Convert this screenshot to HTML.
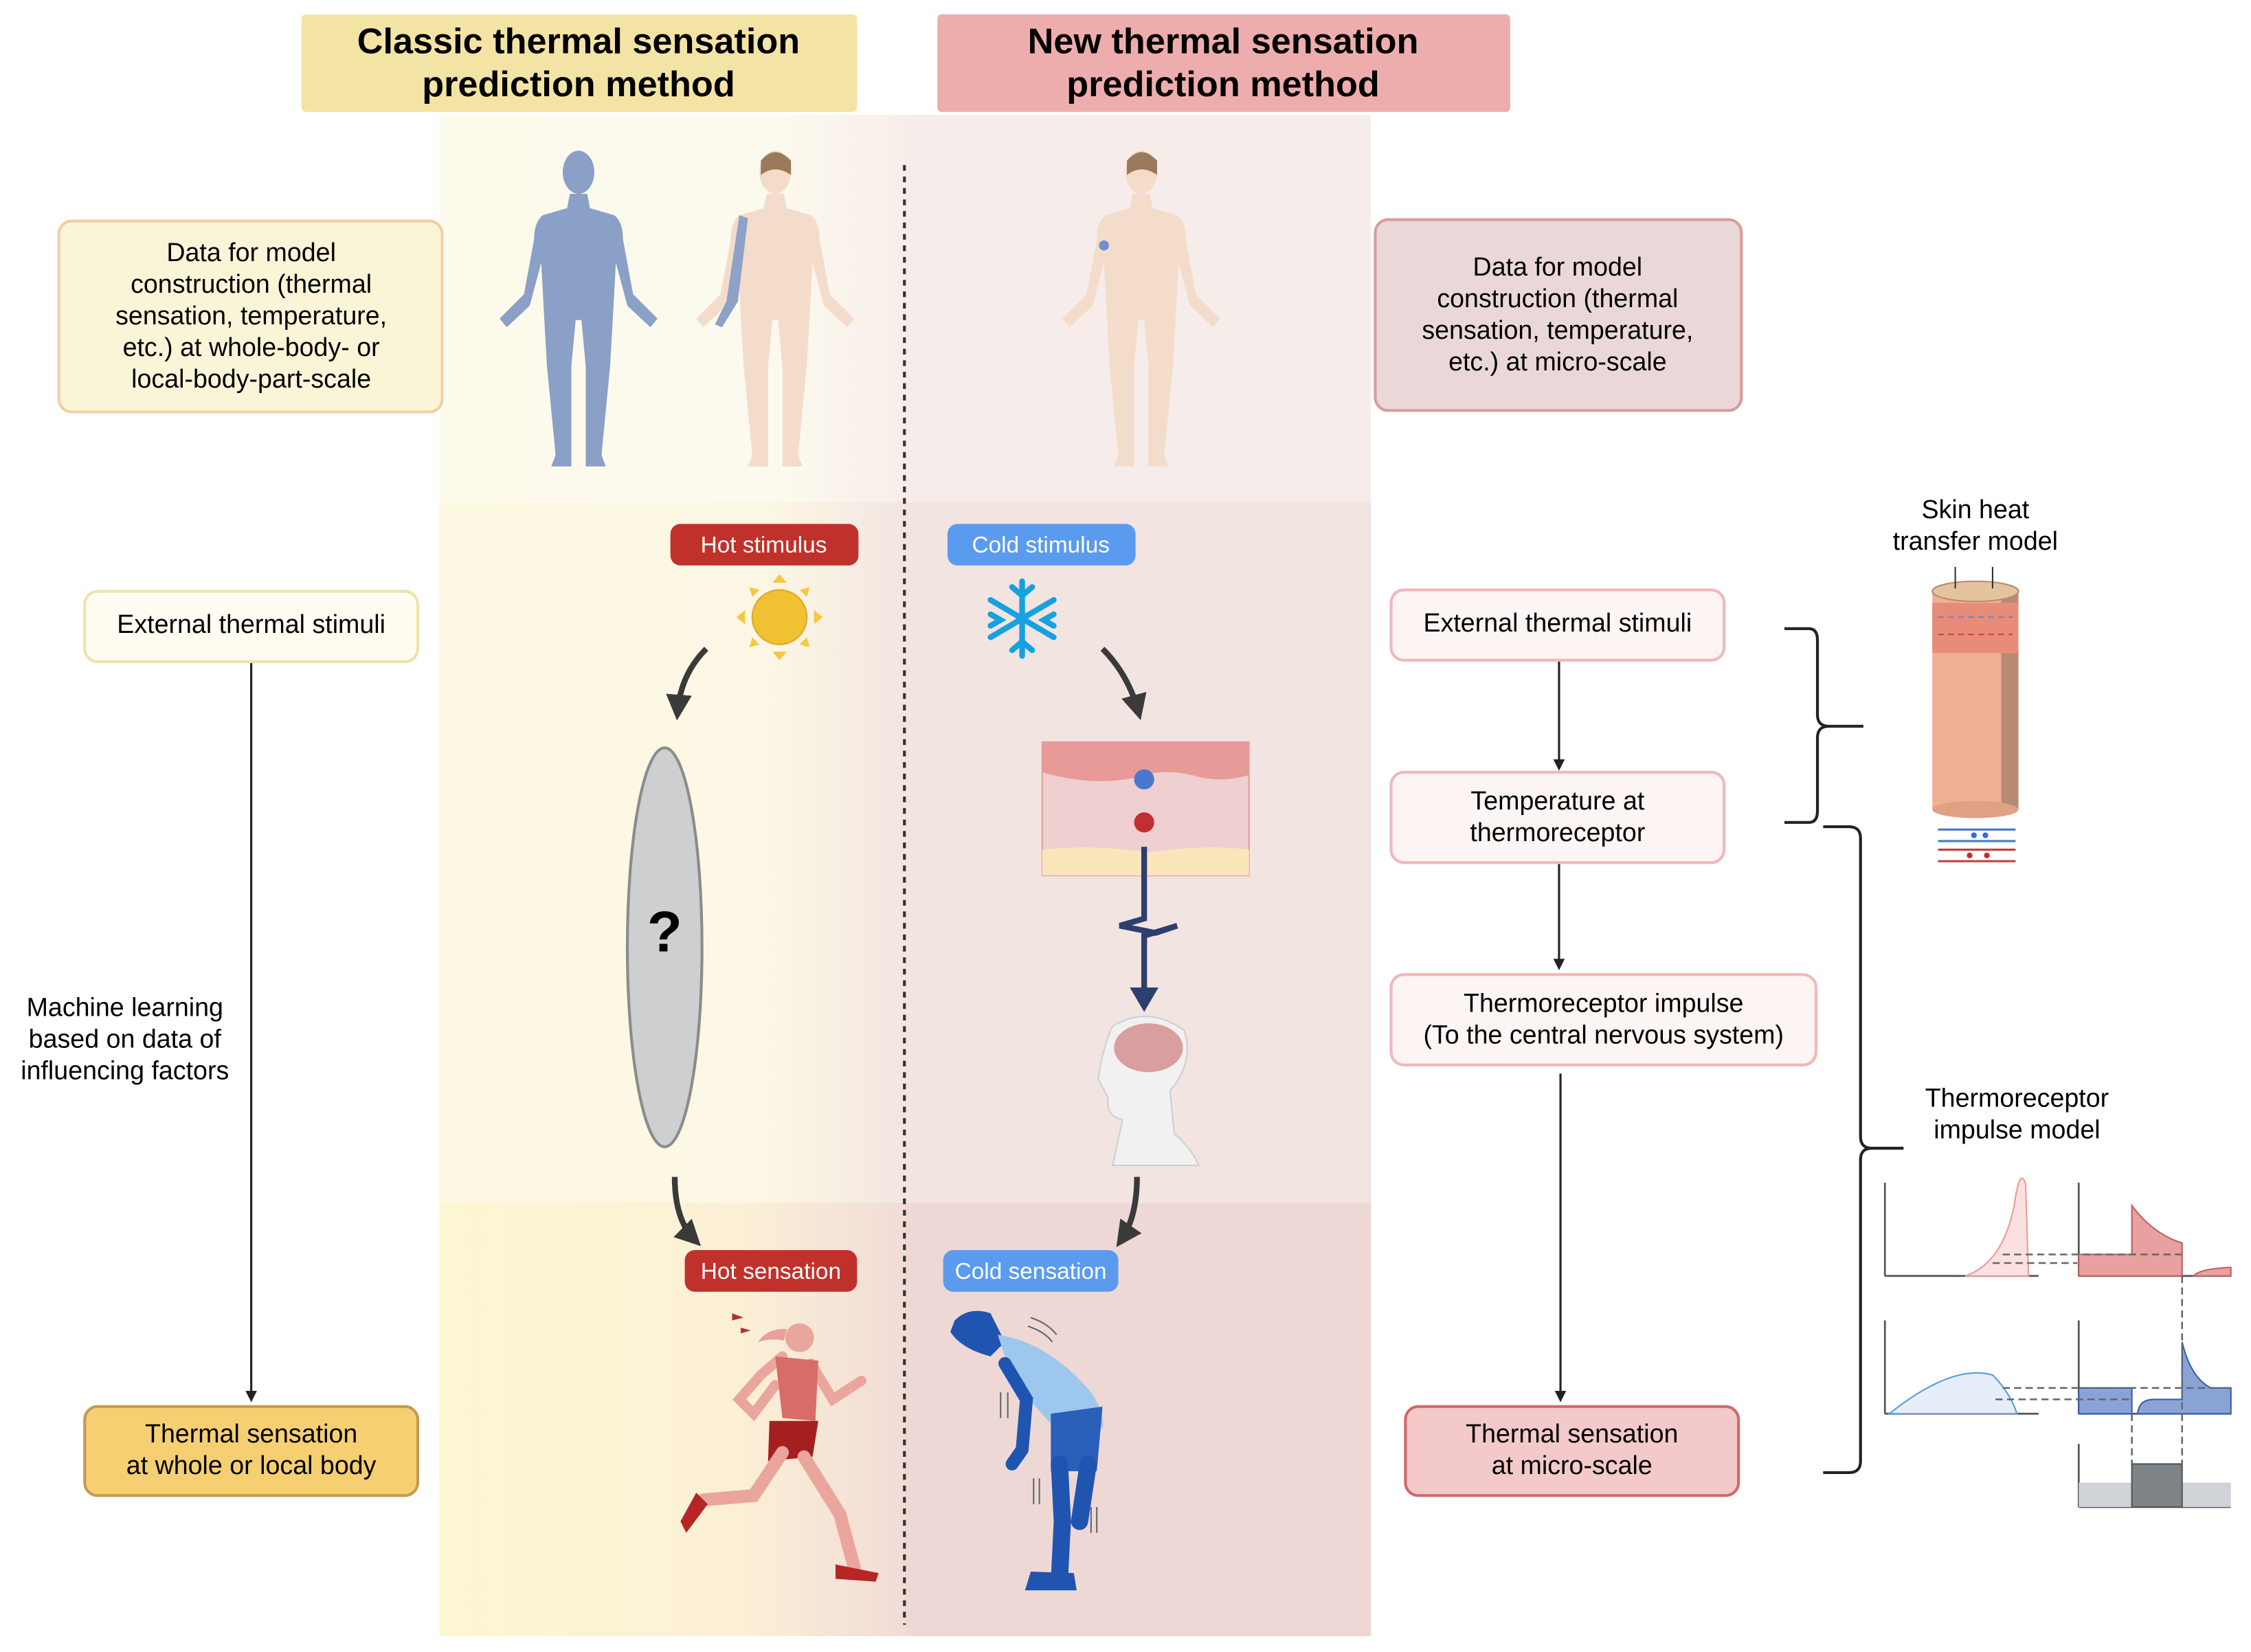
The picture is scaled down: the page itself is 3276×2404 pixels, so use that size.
<!DOCTYPE html>
<html><head><meta charset="utf-8"><style>
html,body{margin:0;padding:0;background:#fff}
svg{display:block}
text{font-family:"Liberation Sans",sans-serif}
</style></head><body>
<svg width="3276" height="2404" viewBox="0 0 1568 1151" preserveAspectRatio="none" xmlns="http://www.w3.org/2000/svg">
<defs>
<linearGradient id="yt" x1="0" x2="1"><stop offset="0" stop-color="#fdfbec"/><stop offset="0.75" stop-color="#fcf9ee"/><stop offset="1" stop-color="#f7eeea"/></linearGradient>
<linearGradient id="ym" x1="0" x2="1"><stop offset="0" stop-color="#fdf9e2"/><stop offset="0.7" stop-color="#fcf7e4"/><stop offset="1" stop-color="#f3e6e2"/></linearGradient>
<linearGradient id="yb" x1="0" x2="1"><stop offset="0" stop-color="#fdf6d2"/><stop offset="0.65" stop-color="#fbf0d6"/><stop offset="1" stop-color="#f2dcd6"/></linearGradient>
<marker id="ah" markerWidth="8" markerHeight="8" refX="6" refY="4" orient="auto" markerUnits="userSpaceOnUse"><path d="M0,0 L8,4 L0,8 Z" fill="#222"/></marker>
<marker id="ab" markerWidth="18" markerHeight="18" refX="12" refY="9" orient="auto" markerUnits="userSpaceOnUse"><path d="M0,0 L18,9 L0,18 Z" fill="#3a3a3a"/></marker>
<path id="body" d="M-6,30 L6,30 L8,40 L25,45 Q31,50 31,62 L38,100 L55,117 L50,123 L34,108 L26,78 L24,115 L22,150 L16,212 L19,220 L5,220 L5,150 L2,118 L-2,118 L-5,150 L-5,220 L-19,220 L-16,212 L-22,150 L-24,115 L-26,78 L-34,108 L-50,123 L-55,117 L-38,100 L-31,62 Q-31,50 -25,45 L-8,40 Z"/>
</defs>

<rect x="306" y="80" width="324" height="270" fill="url(#yt)"/>
<rect x="306" y="350" width="324" height="488" fill="url(#ym)"/>
<rect x="306" y="838" width="324" height="302" fill="url(#yb)"/>
<rect x="630" y="80" width="325" height="270" fill="#f6ecea"/>
<rect x="630" y="350" width="325" height="488" fill="#f2e4e1"/>
<rect x="630" y="838" width="325" height="302" fill="#eed8d6"/>
<line x1="630" y1="115" x2="630" y2="1132" stroke="#333" stroke-width="2" stroke-dasharray="4,4"/>

<rect x="210" y="10" width="387" height="68" rx="3" fill="#f3e4a6"/>
<text x="403" y="37" font-size="25" font-weight="bold" text-anchor="middle">Classic thermal sensation</text>
<text x="403" y="67" font-size="25" font-weight="bold" text-anchor="middle">prediction method</text>
<rect x="653" y="10" width="399" height="68" rx="3" fill="#eeadad"/>
<text x="852" y="37" font-size="25" font-weight="bold" text-anchor="middle">New thermal sensation</text>
<text x="852" y="67" font-size="25" font-weight="bold" text-anchor="middle">prediction method</text>

<use href="#body" x="403" y="105" fill="#8ba0c6"/>
<ellipse cx="403" cy="120" rx="11" ry="15" fill="#8ba0c6"/>
<use href="#body" x="540" y="105" fill="#f4dccb"/>
<ellipse cx="540" cy="120" rx="11" ry="15" fill="#f4dccb"/>
<path d="M530,112 Q540,100 551,112 L551,122 Q540,114 530,122 Z" fill="#9b7a5c"/>
<path d="M515,150 L521,152 L514,210 L503,228 L498,226 L506,210 Z" fill="#8ea2c8"/>
<use href="#body" x="795" y="105" fill="#f4dccb"/>
<ellipse cx="795" cy="120" rx="11" ry="15" fill="#f4dccb"/>
<path d="M785,112 Q795,100 806,112 L806,122 Q795,114 785,122 Z" fill="#9b7a5c"/>
<circle cx="769" cy="171" r="3.5" fill="#6f8ed0"/>

<rect x="41" y="154" width="267" height="133" rx="9" fill="#fbf5d8" stroke="#f0d0a4" stroke-width="2"/>
<g font-size="18" text-anchor="middle"><text x="175" y="182">Data for model</text><text x="175" y="204">construction (thermal</text><text x="175" y="226">sensation, temperature,</text><text x="175" y="248">etc.) at whole-body- or</text><text x="175" y="270">local-body-part-scale</text></g>
<rect x="958" y="153" width="255" height="133" rx="9" fill="#ead8d8" stroke="#d89c9c" stroke-width="2"/>
<g font-size="18" text-anchor="middle"><text x="1085" y="192">Data for model</text><text x="1085" y="214">construction (thermal</text><text x="1085" y="236">sensation, temperature,</text><text x="1085" y="258">etc.) at micro-scale</text></g>

<rect x="59" y="412" width="232" height="49" rx="9" fill="#fffdf2" stroke="#efe3a8" stroke-width="2"/>
<text x="175" y="441" font-size="18" text-anchor="middle">External thermal stimuli</text>
<line x1="175" y1="462" x2="175" y2="975" stroke="#222" stroke-width="1.5" marker-end="url(#ah)"/>
<g font-size="18" text-anchor="middle"><text x="87" y="708">Machine learning</text><text x="87" y="730">based on data of</text><text x="87" y="752">influencing factors</text></g>
<rect x="59" y="980" width="232" height="62" rx="9" fill="#f5cf72" stroke="#c59a52" stroke-width="2"/>
<text x="175" y="1005" font-size="18" text-anchor="middle">Thermal sensation</text>
<text x="175" y="1027" font-size="18" text-anchor="middle">at whole or local body</text>

<rect x="969" y="411" width="232" height="49" rx="9" fill="#fdf4f4" stroke="#f0b8b8" stroke-width="2"/>
<text x="1085" y="440" font-size="18" text-anchor="middle">External thermal stimuli</text>
<line x1="1086" y1="461" x2="1086" y2="535" stroke="#222" stroke-width="1.5" marker-end="url(#ah)"/>
<rect x="969" y="538" width="232" height="63" rx="9" fill="#fdf4f4" stroke="#f0b8b8" stroke-width="2"/>
<text x="1085" y="564" font-size="18" text-anchor="middle">Temperature at</text>
<text x="1085" y="586" font-size="18" text-anchor="middle">thermoreceptor</text>
<line x1="1086" y1="602" x2="1086" y2="674" stroke="#222" stroke-width="1.5" marker-end="url(#ah)"/>
<rect x="969" y="679" width="296" height="63" rx="9" fill="#fdf4f4" stroke="#f0b8b8" stroke-width="2"/>
<text x="1117" y="705" font-size="18" text-anchor="middle">Thermoreceptor impulse</text>
<text x="1117" y="727" font-size="18" text-anchor="middle">(To the central nervous system)</text>
<line x1="1087" y1="748" x2="1087" y2="975" stroke="#222" stroke-width="1.5" marker-end="url(#ah)"/>
<rect x="979" y="980" width="232" height="62" rx="9" fill="#f3c9c9" stroke="#d06a6a" stroke-width="2"/>
<text x="1095" y="1005" font-size="18" text-anchor="middle">Thermal sensation</text>
<text x="1095" y="1027" font-size="18" text-anchor="middle">at micro-scale</text>

<path d="M1243,438 L1260,438 Q1266,438 1266,446 L1266,498 Q1266,506 1274,506 L1298,506 M1274,506 Q1266,506 1266,514 L1266,565 Q1266,573 1260,573 L1243,573" fill="none" stroke="#222" stroke-width="2"/>
<path d="M1270,576 L1288,576 Q1296,576 1296,584 L1296,792 Q1296,800 1304,800 L1326,800 M1304,800 Q1296,800 1296,808 L1296,1018 Q1296,1026 1288,1026 L1270,1026" fill="none" stroke="#222" stroke-width="2"/>

<text x="1376" y="361" font-size="18" text-anchor="middle">Skin heat</text>
<text x="1376" y="383" font-size="18" text-anchor="middle">transfer model</text>
<rect x="1346" y="412" width="60" height="152" fill="#f0b093"/>
<rect x="1394" y="412" width="12" height="152" fill="#b78a72"/>
<rect x="1346" y="420" width="60" height="35" fill="#e88c7a"/>
<line x1="1350" y1="430" x2="1402" y2="430" stroke="#5a8ad8" stroke-dasharray="4,3"/>
<line x1="1350" y1="442" x2="1402" y2="442" stroke="#d04040" stroke-dasharray="4,3"/>
<ellipse cx="1376" cy="412" rx="30" ry="7" fill="#e6c39f" stroke="#b78a72"/>
<ellipse cx="1376" cy="564" rx="30" ry="6" fill="#e0a082"/>
<line x1="1362" y1="395" x2="1362" y2="410" stroke="#333"/><line x1="1388" y1="395" x2="1388" y2="410" stroke="#333"/>
<line x1="1350" y1="578" x2="1404" y2="578" stroke="#4a78c8" stroke-width="1.5"/>
<line x1="1350" y1="586" x2="1404" y2="586" stroke="#4a78c8" stroke-width="1.5"/>
<circle cx="1375" cy="582" r="2" fill="#3a6ad0"/><circle cx="1383" cy="582" r="2" fill="#3a6ad0"/>
<line x1="1350" y1="592" x2="1404" y2="592" stroke="#c04040" stroke-width="1.5"/>
<line x1="1350" y1="600" x2="1404" y2="600" stroke="#c04040" stroke-width="1.5"/>
<circle cx="1372" cy="596" r="2" fill="#c03030"/><circle cx="1384" cy="596" r="2" fill="#c03030"/>

<text x="1405" y="771" font-size="18" text-anchor="middle">Thermoreceptor</text>
<text x="1405" y="793" font-size="18" text-anchor="middle">impulse model</text>
<g stroke="#555" stroke-width="1.3" fill="none">
<path d="M1313,889 L1313,824 M1313,889 L1420,889 M1448,889 L1448,824 M1448,889 L1554,889 M1313,985 L1313,920 M1313,985 L1420,985 M1448,985 L1448,920 M1448,985 L1554,985 M1448,1050 L1448,1006 M1448,1050 L1554,1050"/>
</g>
<path d="M1369,889 Q1395,880 1403,840 Q1407,812 1411,825 L1413,889 Z" fill="#fbe0e0" stroke="#ec9a9a"/>
<path d="M1448,889 L1448,874 L1485,874 L1485,840 Q1500,860 1520,866 L1520,889 Z" fill="#e8a0a0" stroke="#c06060"/>
<path d="M1528,889 Q1532,884 1554,883 L1554,889 Z" fill="#e8a0a0" stroke="#c06060"/>
<path d="M1316,985 Q1360,950 1388,958 Q1400,970 1405,985 Z" fill="#e6eef9" stroke="#5a9ae0"/>
<path d="M1448,985 L1448,967 L1485,967 L1485,985 Z M1489,985 Q1490,975 1500,975 L1520,975 L1520,935 Q1526,960 1540,967 L1554,967 L1554,985 Z" fill="#8aa3d6" stroke="#3a5ea8"/>
<rect x="1448" y="1033" width="106" height="17" fill="#cfd3d8"/>
<rect x="1485" y="1020" width="35" height="30" fill="#7e8388" stroke="#555"/>
<g stroke="#666" stroke-width="1.2" stroke-dasharray="5,3" fill="none">
<path d="M1395,874 L1520,874 M1388,880 L1447,880 M1520,889 L1520,1020 M1485,985 L1485,1020 M1395,967 L1554,967 M1390,975 L1485,975"/>
</g>

<rect x="467" y="365" width="131" height="29" rx="7" fill="#c1312b"/>
<text x="532" y="385" font-size="16" fill="#fff" text-anchor="middle">Hot stimulus</text>
<g fill="#f5c842"><circle cx="543" cy="430" r="19" fill="#f0c233" stroke="#e2a720"/>
<path d="M543,400 l-5,6 h10z M543,460 l-5,-6 h10z M513,430 l6,-5 v10z M573,430 l-6,-5 v10z M522,409 l7,2 -5,5z M564,409 l-7,2 5,5z M522,451 l7,-2 -5,-5z M564,451 l-7,-2 5,-5z"/></g>
<path d="M492,452 Q474,470 472,496" fill="none" stroke="#3a3a3a" stroke-width="4" marker-end="url(#ab)"/>
<ellipse cx="463" cy="660" rx="26" ry="139" fill="#cdcfd1" stroke="#8c8c8c" stroke-width="2"/>
<text x="463" y="663" font-size="40" font-weight="bold" text-anchor="middle">?</text>
<path d="M470,820 Q470,850 484,864" fill="none" stroke="#3a3a3a" stroke-width="4" marker-end="url(#ab)"/>
<rect x="477" y="871" width="120" height="29" rx="7" fill="#c1312b"/>
<text x="537" y="891" font-size="16" fill="#fff" text-anchor="middle">Hot sensation</text>
<g>
<circle cx="557" cy="932" r="10" fill="#eaa59c"/>
<path d="M548,926 Q535,925 528,935 Q538,932 546,934 Z" fill="#e8a098"/>
<path d="M510,915 l8,3 -8,2z M516,925 l7,2 -7,2z" fill="#b03030"/>
<path d="M545,945 L530,958 L515,975 L525,985 L540,965 M565,950 L580,975 L600,962" fill="none" stroke="#eaa59c" stroke-width="7" stroke-linecap="round"/>
<path d="M540,945 L570,948 L568,990 L545,988 Z" fill="#d86c68"/>
<path d="M536,990 L570,990 L566,1015 L535,1018 Z" fill="#a51f1f"/>
<path d="M545,1012 L525,1042 L490,1045 M560,1015 L585,1055 L595,1092" fill="none" stroke="#eaa59c" stroke-width="9" stroke-linecap="round"/>
<path d="M485,1040 L493,1048 L478,1068 L474,1060 Z M582,1090 L612,1096 L610,1102 L582,1100 Z" fill="#b82525"/>
</g>

<rect x="660" y="365" width="131" height="29" rx="7" fill="#5b9bef"/>
<text x="725" y="385" font-size="16" fill="#fff" text-anchor="middle">Cold stimulus</text>
<g stroke="#16a1e0" stroke-width="4" stroke-linecap="round" fill="none">
<path d="M712,405 V457 M690,418 L734,444 M690,444 L734,418 M705,409 L712,415 L719,409 M705,453 L712,447 L719,453 M690,428 L697,432 L690,436 M734,428 L727,432 L734,436"/></g>
<path d="M768,452 Q786,470 793,496" fill="none" stroke="#3a3a3a" stroke-width="4" marker-end="url(#ab)"/>
<rect x="726" y="517" width="144" height="93" fill="#efcfcf" stroke="#e0a0a0"/>
<path d="M726,517 H870 V540 Q850,546 830,540 Q810,535 790,542 Q760,548 726,538 Z" fill="#e89a98"/>
<path d="M726,592 Q760,588 800,594 Q840,588 870,592 V610 H726 Z" fill="#fbe6bc"/>
<circle cx="797" cy="543" r="7" fill="#4a78d0"/><circle cx="797" cy="573" r="7" fill="#c03030"/>
<path d="M797,590 V640 L780,645 L805,650 L820,645 L797,652 V690" fill="none" stroke="#2d3f6e" stroke-width="4"/>
<path d="M787,688 L807,688 L797,705 Z" fill="#2d3f6e"/>
<path d="M775,715 Q800,700 825,718 Q832,740 815,760 L818,790 Q830,800 835,812 H775 L782,780 Q770,778 772,765 L765,752 Q768,730 775,715 Z" fill="#f1f1f1" stroke="#cfcfcf"/>
<ellipse cx="800" cy="730" rx="24" ry="17" fill="#d99e9e"/>
<path d="M792,820 Q792,848 781,864" fill="none" stroke="#3a3a3a" stroke-width="4" marker-end="url(#ab)"/>
<rect x="657" y="871" width="122" height="29" rx="7" fill="#5b9bef"/>
<text x="718" y="891" font-size="16" fill="#fff" text-anchor="middle">Cold sensation</text>
<g>
<path d="M665,920 Q675,910 690,915 L700,935 L690,945 Q670,940 662,928 Z" fill="#1f55b0"/>
<path d="M695,930 Q730,935 760,970 Q770,985 768,995 L740,1000 Q720,980 705,960 Z" fill="#9ec7ed"/>
<path d="M700,950 L715,975 L712,1010 M712,1010 L705,1020" fill="none" stroke="#1f55b0" stroke-width="9" stroke-linecap="round"/>
<path d="M732,985 L768,980 L764,1025 L732,1025 Z" fill="#2a5fba"/>
<path d="M738,1020 L740,1060 L738,1100 M758,1020 L752,1060" fill="none" stroke="#1f55b0" stroke-width="12" stroke-linecap="round"/>
<path d="M718,1095 L748,1096 L750,1108 L714,1108 Z" fill="#1f55b0"/>
<path d="M718,918 Q730,922 736,930 M716,924 Q728,928 733,935 M697,970 v18 M702,970 v18 M720,1030 v18 M724,1030 v18 M760,1050 v18 M764,1050 v18" stroke="#666" fill="none"/>
</g>
</svg>
</body></html>
